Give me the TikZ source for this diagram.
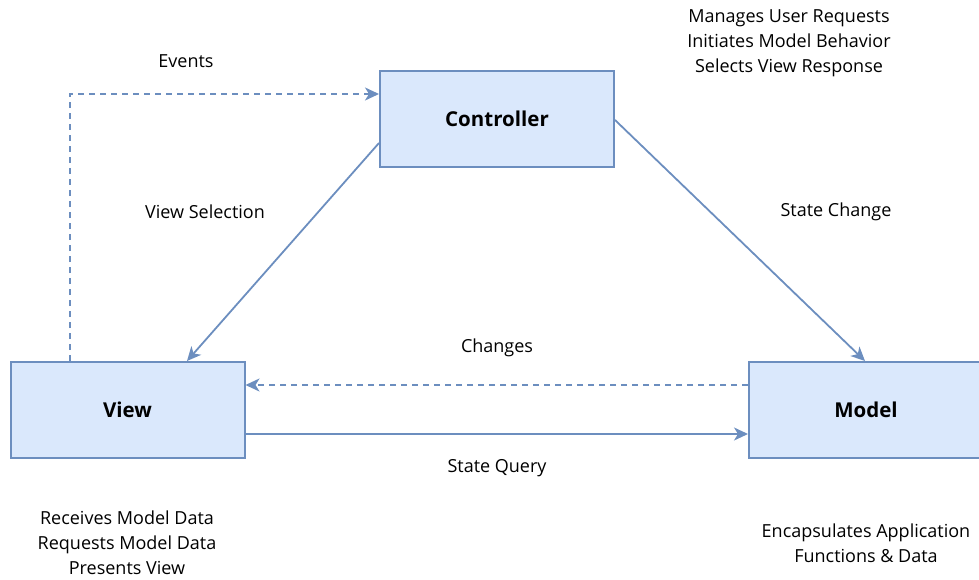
\documentclass[tikz,border=0pt]{standalone}
\usepackage{fontspec}
\setmainfont{Open Sans}
\usetikzlibrary{arrows.meta}
\definecolor{boxfill}{HTML}{DAE8FC}
\definecolor{boxline}{HTML}{6C8EBF}
\begin{document}
\begin{tikzpicture}[x=1pt,y=-1pt,
  comp/.style={draw=boxline,fill=boxfill,line width=2pt,minimum width=234pt,minimum height=96pt,inner sep=0pt,font=\fontsize{20.5}{24}\selectfont\bfseries},
  link/.style={draw=boxline,line width=1.8pt,-{Triangle[length=14pt,width=13pt,inset=4pt]}},
  dlink/.style={link,dash pattern=on 6pt off 5pt},
  lbl/.style={font=\fontsize{18}{22}\selectfont,inner sep=0pt},
  note/.style={font=\fontsize{18}{25}\selectfont,align=center,inner sep=0pt}]
\useasboundingbox (0,0) rectangle (979,580);
\node[comp] (ctrl) at (497,119) {Controller};
\node[comp] (view) at (127.5,410) {View};
\node[comp] (model) at (866,410) {Model};
% connectors
\coordinate (evturn) at (70,94);
\draw[dlink] (view.north -| evturn) -- (evturn) -- (ctrl.west |- evturn);
\draw[link] (ctrl.west |- 0,143) -- (view.north -| 187,0);
\draw[link] (ctrl.east |- 0,120) -- (model.north -| 865,0);
\draw[dlink] (model.west |- 0,385) -- (view.east |- 0,385);
\draw[link] (view.east |- 0,434) -- (model.west |- 0,434);
% connector labels
\node[lbl] (lev) at (186,61) {Events};
\node[lbl] (lvs) at (205,212) {View Selection};
\node[lbl] (lsc) at (836,212) {State Change};
\node[lbl] (lch) at (497,348) {Changes};
\node[lbl] (lsq) at (497,468) {State Query};
% component notes
\node[note] (nctrl) at (789,43) {Manages User Requests\\Initiates Model Behavior\\Selects View Response};
\node[note] (nview) at (127,543) {Receives Model Data\\Requests Model Data\\Presents View};
\node[note] (nmodel) at (866,543) {Encapsulates Application\\Functions \& Data};
\end{tikzpicture}
\end{document}
